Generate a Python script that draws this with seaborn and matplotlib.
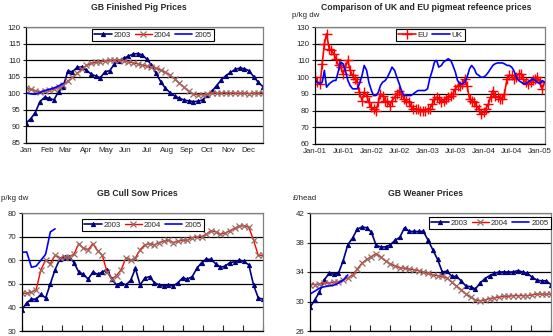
import matplotlib
matplotlib.use("Agg")
import matplotlib.pyplot as plt
import seaborn as sns
import numpy as np
import pandas as pd

# ---------------- data ----------------
months = ["Jan", "Feb", "Mar", "Apr", "May", "Jun", "Jul", "Aug", "Sep", "Oct", "Nov", "Dec"]

# GB Finished Pig Prices (weekly)
pig_2003 = [91.0, 92.3, 94.2, 97.5, 98.8, 98.5, 98.0, 100.5, 102.0, 106.7,
            106.5, 107.8, 108.0, 107.0, 105.8, 105.2, 104.7, 106.5, 106.8, 108.8,
            109.8, 110.5, 111.2, 111.8, 112.0, 111.6, 110.3, 108.5, 106.0, 103.5,
            101.5, 100.2, 99.2, 98.5, 98.0, 97.7, 97.5, 97.6, 98.0, 99.5,
            100.6, 102.3, 104.0, 105.3, 106.3, 107.2, 107.6, 107.4, 106.8, 105.0,
            103.3, 102.0]
pig_2004 = [101.5, 101.2, 100.8, 100.5, 100.6, 100.9, 101.2, 101.8, 102.6, 103.6,
            104.8, 106.0, 107.3, 108.4, 109.0, 109.3, 109.5, 109.7, 109.9, 110.0,
            110.0, 109.8, 109.5, 109.2, 108.9, 108.5, 108.2, 108.0, 107.6, 107.0,
            106.3, 105.4, 104.3, 103.0, 101.8, 100.6, 99.8, 99.5, 99.6, 99.8,
            100.0, 100.1, 100.0, 100.2, 100.1, 100.0, 100.0, 100.0, 99.9, 100.0,
            100.1, 100.2]
pig_2005 = [100.2, 99.8, 99.7, 100.2, 100.8, 101.2, 101.6, 102.2, 103.0]

# Comparison of UK and EU reference prices (half-monthly from Jan-01)
eu_price = [100, 97, 96, 108, 120, 126, 117, 116, 114, 111,
            107, 106, 102, 106, 110, 104, 101, 99, 97, 91,
            86, 91, 89, 85, 82, 81, 80, 85, 90, 89,
            86, 85, 83, 86, 88, 90, 92, 90, 87, 86,
            85, 83, 81, 81, 81, 80, 80, 80, 81, 81,
            84, 87, 88, 87, 85, 86, 87, 88, 89, 90,
            93, 95, 95, 96, 99, 95, 87, 86, 85, 83,
            81, 78, 79, 81, 84, 88, 92, 89, 88, 87,
            87, 90, 99, 101, 101, 99, 100, 102, 102, 99,
            97, 96, 97, 98, 99, 100, 97, 93, 97]
uk_price = [98, 97, 96, 97, 104, 94, 96, 97, 98, 98,
            104, 109, 108, 104, 98, 95, 93, 93, 93, 96,
            101, 107, 104, 97, 92, 89, 89, 91, 95, 97,
            98, 100, 103, 106, 104, 100, 96, 92, 89, 89,
            89, 89, 90, 91, 92, 92, 92, 92, 93, 99,
            104, 109, 110, 106, 107, 109, 110, 111, 110, 107,
            103, 98, 96, 96, 97, 100, 105, 107, 105, 102,
            101, 100, 100, 101, 103, 105, 107, 108, 108.5, 108.5,
            108.5, 108, 107, 107, 106, 104, 100, 98, 97, 96,
            96, 97, 98, 99, 98, 97, 96, 98, 97]
date_labels = ["Jan-01", "Jul-01", "Jan-02", "Jul-02", "Jan-03", "Jul-03", "Jan-04", "Jul-04", "Jan-05"]

# GB Cull Sow Prices (weekly)
sow_2003 = [39.0, 42.0, 43.5, 43.5, 45.5, 44.0, 50.0, 56.0, 60.5, 61.5,
            61.5, 59.0, 55.0, 54.0, 52.0, 55.0, 54.0, 55.0, 56.0, 52.0,
            49.5, 50.5, 49.5, 51.5, 56.5, 49.5, 52.5, 53.0, 50.5, 49.5,
            49.0, 49.5, 49.0, 50.5, 52.5, 52.0, 53.0, 56.5, 59.0, 60.5,
            60.3, 58.5, 57.0, 57.5, 59.0, 59.3, 60.0, 59.5, 58.0, 49.5,
            44.0, 43.5]
sow_2004 = [46.0, 46.0, 46.5, 47.5, 56.0, 60.0, 58.5, 62.0, 61.0, 61.5,
            61.5, 62.5, 67.0, 65.0, 64.5, 67.0, 64.0, 62.0, 55.0, 52.0,
            53.5, 56.0, 61.0, 60.0, 61.0, 64.5, 66.5, 67.0, 66.5, 67.5,
            68.0, 68.5, 67.5, 68.0, 68.5, 68.5, 69.5, 70.0, 70.0, 71.0,
            72.5, 72.0, 71.0, 71.5, 72.5, 73.5, 74.5, 74.5, 74.0, 68.5,
            62.0, 62.0]
sow_2005 = [63.3, 63.5, 57.0, 57.5, 60.0, 62.5, 72.0, 73.3]

# GB Weaner Prices (weekly)
wean_2003 = [29.2, 30.2, 31.3, 32.9, 33.8, 33.7, 33.8, 35.5, 37.7, 38.6,
             39.8, 40.1, 40.0, 39.4, 37.6, 37.4, 37.4, 37.7, 38.3, 38.7,
             40.0, 39.5, 39.5, 39.5, 39.5, 38.3, 37.0, 35.7, 34.0, 34.1,
             33.4, 33.4, 32.8, 32.1, 32.0, 31.7, 32.5, 33.1, 33.5, 33.8,
             34.0, 34.0, 34.0, 34.0, 34.2, 34.0, 33.8, 33.3, 32.9, 32.8,
             32.8, 32.3]
wean_2004 = [32.3, 32.3, 32.4, 32.5, 32.5, 32.6, 32.7, 32.9, 33.2, 33.6,
             34.4, 35.2, 35.7, 36.1, 36.5, 36.0, 35.5, 35.1, 34.8, 34.6,
             34.5, 34.4, 34.3, 34.2, 34.0, 33.8, 33.6, 33.5, 33.4, 33.2,
             32.6, 32.1, 31.6, 31.0, 30.6, 30.2, 30.1, 30.2, 30.4, 30.5,
             30.6, 30.7, 30.7, 30.8, 30.8, 30.8, 30.8, 30.9, 31.0, 31.0,
             31.0, 31.0]
wean_2005 = [31.0, 31.4, 31.8, 32.0, 32.1, 32.2, 32.5, 32.9, 33.6]

# ---------------- style ----------------
sns.set_style("white")
plt.rcParams["font.family"] = ["Liberation Sans", "DejaVu Sans"]

W, H = 553, 336
fig = plt.figure(figsize=(W / 100, H / 100), dpi=100)
FS = 5.7
C03, C04, C05 = "#000080", "#FF0000", "#0000FF"
XMK = "#9b6b63"


def axes_px(l, t, r, b):
    return fig.add_axes([l / W, 1 - b / H, (r - l) / W, (b - t) / H])


def style_axes(ax, yticks):
    ax.set_ylim(yticks[0], yticks[-1])
    ax.set_yticks(yticks)
    ax.yaxis.grid(True, color="black", linewidth=0.9)
    ax.xaxis.grid(False)
    ax.set_axisbelow(True)
    for s in ["top", "right"]:
        ax.spines[s].set_color("#808080")
        ax.spines[s].set_linewidth(0.9)
    for s in ["left", "bottom"]:
        ax.spines[s].set_color("black")
        ax.spines[s].set_linewidth(0.9)
    ax.tick_params(axis="y", labelsize=FS, length=2.5, width=0.8, pad=1.5, direction="out", left=True)
    ax.set_xlabel("")
    ax.set_ylabel("")


def legend(ax, **kw):
    lg = ax.legend(frameon=True, fancybox=False, edgecolor="black", fontsize=FS,
                   handlelength=2.2, handletextpad=0.25, columnspacing=0.45,
                   borderpad=0.3, borderaxespad=0, **kw)
    lg.get_frame().set_linewidth(0.8)
    lg.get_frame().set_facecolor("white")
    lg.get_frame().set_alpha(1)


def year_series(ax, s03, s04, s05):
    sns.lineplot(x=np.arange(1, len(s03) + 1), y=s03, ax=ax, color=C03, linewidth=1.2,
                 marker="^", markersize=3, markeredgecolor=C03, markerfacecolor=C03, label="2003")
    sns.lineplot(x=np.arange(1, len(s04) + 1), y=s04, ax=ax, color=C04, linewidth=1.0,
                 marker="x", markersize=5, markeredgecolor=XMK, markeredgewidth=0.9, label="2004")
    sns.lineplot(x=np.arange(1, len(s05) + 1), y=s05, ax=ax, color=C05, linewidth=1.2, label="2005")


# ---------------- panel 1: finished pig ----------------
ax1 = axes_px(26, 27, 263, 143)
year_series(ax1, pig_2003, pig_2004, pig_2005)
ax1.set_xlim(1, 52)
style_axes(ax1, list(range(85, 121, 5)))
month_pos = [1, 5.5, 9.4, 13.9, 18.2, 22.3, 27.0, 31.3, 35.6, 39.95, 44.5, 48.8]
ax1.set_xticks(month_pos)
ax1.set_xticklabels(months)
ax1.tick_params(axis="x", labelsize=FS, length=0, pad=3)
legend(ax1, ncol=3, loc="upper center", bbox_to_anchor=(0.536, 0.985))

# ---------------- panel 2: UK vs EU ----------------
ax2 = axes_px(315, 27, 545, 144)
dates = pd.date_range("2001-01-01", periods=len(eu_price), freq="SMS")
sns.lineplot(x=dates, y=eu_price, ax=ax2, color=C04, linewidth=1.2, marker="+",
             markersize=7, markeredgewidth=1.0, markeredgecolor=C04, label="EU")
sns.lineplot(x=dates, y=uk_price, ax=ax2, color=C05, linewidth=1.2, label="UK")
ax2.set_xlim(pd.Timestamp("2000-12-30"), pd.Timestamp("2005-02-03"))
style_axes(ax2, list(range(60, 131, 10)))
tick_dates = pd.date_range("2001-01-01", periods=len(date_labels), freq="6MS")
ax2.set_xticks(tick_dates)
ax2.set_xticklabels(date_labels)
ax2.tick_params(axis="x", labelsize=FS, length=0, pad=3)
legend(ax2, ncol=2, loc="upper center", bbox_to_anchor=(0.502, 0.985))

# ---------------- panel 3: cull sow ----------------
ax3 = axes_px(22, 213, 263, 331)
year_series(ax3, sow_2003, sow_2004, sow_2005)
ax3.set_xlim(1, 52)
style_axes(ax3, list(range(30, 81, 10)))
ax3.set_xticks(1 + np.arange(13) * 51 / 12)
ax3.set_xticklabels([])
ax3.tick_params(axis="x", length=4, width=0.8, direction="in", bottom=True)
legend(ax3, ncol=3, loc="upper center", bbox_to_anchor=(0.502, 0.95))

# ---------------- panel 4: weaner ----------------
ax4 = axes_px(310, 213, 551, 331)
year_series(ax4, wean_2003, wean_2004, wean_2005)
ax4.set_xlim(1, 52)
style_axes(ax4, list(range(26, 43, 4)))
ax4.set_xticks(1 + np.arange(13) * 51 / 12)
ax4.set_xticklabels([])
ax4.tick_params(axis="x", length=4, width=0.8, direction="in", bottom=True)
legend(ax4, ncol=3, loc="upper right", bbox_to_anchor=(1.0, 0.966))

# ---------------- titles / unit labels ----------------
def ftext(x, y, s, **kw):
    fig.text(x / W, 1 - y / H, s, va="center", **kw)

ftext(138.5, 7.5, "GB Finished Pig Prices", ha="center", fontsize=6.2, fontweight="bold")
ftext(426.5, 7.5, "Comparison of UK and EU pigmeat refeence prices", ha="center", fontsize=6.2, fontweight="bold")
ftext(137.5, 194, "GB Cull Sow Prices", ha="center", fontsize=6.2, fontweight="bold")
ftext(426, 194, "GB Weaner Prices", ha="center", fontsize=6.2, fontweight="bold")
ftext(292, 15.5, "p/kg dw", ha="left", fontsize=FS)
ftext(1, 198.5, "p/kg dw", ha="left", fontsize=FS)
ftext(293, 198.5, "£/head", ha="left", fontsize=FS)

fig.savefig("out.png", dpi=100)
